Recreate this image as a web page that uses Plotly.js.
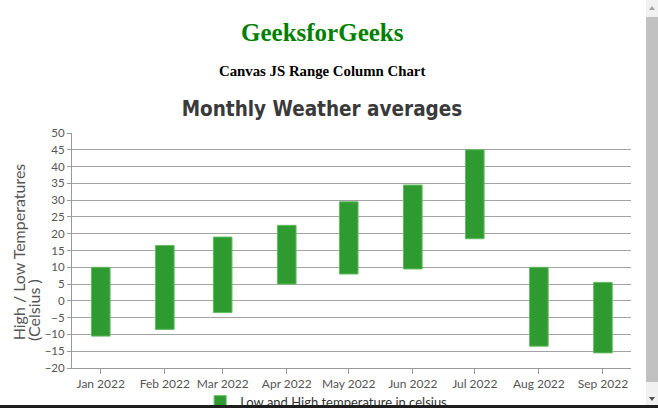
<!DOCTYPE html>
<html>
<head>
<meta charset="utf-8">
<script src="https://cdn.plot.ly/plotly-3.0.1.min.js"></script>
<style>
html,body{margin:0;padding:0;overflow:hidden;background:#fff;}
#wrap{position:relative;width:658px;height:408px;overflow:hidden;background:#fff;}
#chart{position:absolute;left:0;top:0;width:658px;height:430px;}
#sb{position:absolute;left:646px;top:0;width:12px;height:405px;background:#f1f1f1;}
#thumb{position:absolute;left:0;top:17px;width:12px;height:365px;background:#c1c1c1;}
#up{position:absolute;left:3px;top:6px;width:0;height:0;border-left:3px solid transparent;border-right:3px solid transparent;border-bottom:4px solid #a3a3a3;}
#down{position:absolute;left:3px;top:397px;width:0;height:0;border-left:3px solid transparent;border-right:3px solid transparent;border-top:4px solid #505050;}
#bottombar{position:absolute;left:0;top:405px;width:658px;height:3px;background:#1e1e1e;}
</style>
</head>
<body>
<div id="wrap">
  <div id="chart"></div>
  <div id="sb"><div id="thumb"></div><div id="up"></div><div id="down"></div></div>
  <div id="bottombar"></div>
</div>
<script>
// ---- data ----
var months = ['2022-01-01','2022-02-01','2022-03-01','2022-04-01','2022-05-01','2022-06-01','2022-07-01','2022-08-01','2022-09-01'];
var lowTemps  = [-10.5, -8.5, -3.5, 5, 8, 9.5, 18.5, -13.5, -15.5];
var highTemps = [10, 16.5, 19, 22.5, 29.5, 34.5, 45, 10, 5.5];
var seriesName = 'Low and High temperature in celsius';
var chartTitle = 'Monthly Weather averages';
var yTitleLine1 = 'High / Low Temperatures';
var yTitleLine2 = '(Celsius )';
var pageHeading = 'GeeksforGeeks';
var pageSubheading = 'Canvas JS Range Column Chart';

var DAY = 86400000;
var H = 430;
var plotLeft = 72, plotRight = 630.7, plotTop = 133.3, plotBottom = 368.3;
var pw = plotRight - plotLeft, ph = plotBottom - plotTop;
function px2x(p){ return (p - plotLeft) / pw; }
function px2y(p){ return (plotBottom - p) / ph; }

var trace = {
  type: 'bar',
  name: seriesName,
  x: months,
  base: lowTemps,
  y: highTemps.map(function(h, i){ return h - lowTemps[i]; }),
  width: 9 * DAY,
  marker: { color: '#2f9a2f', line: { color: '#62bb62', width: 1 } },
  showlegend: true
};

var layout = {
  width: 658, height: H,
  margin: { l: plotLeft, r: 658 - plotRight, t: plotTop, b: H - plotBottom, pad: 0 },
  paper_bgcolor: '#fff', plot_bgcolor: '#fff',
  font: { family: 'Lato, sans-serif', color: '#555' },
  title: {
    text: chartTitle,
    font: { family: '"DejaVu Sans Condensed", "DejaVu Sans", sans-serif', size: 20.5, weight: 'bold', color: '#3a3a3a' },
    xref: 'container', x: 322 / 658, xanchor: 'center',
    yref: 'container', y: 1 - 109 / H, yanchor: 'middle'
  },
  xaxis: {
    type: 'date',
    range: ['2021-12-18 02:00', '2022-09-14 14:00'],
    tickvals: months,
    tickformat: '%b %Y',
    ticks: 'outside', ticklen: 5, tickcolor: '#999', tickwidth: 1,
    showgrid: false, zeroline: false,
    showline: true, linecolor: '#999', linewidth: 1,
    tickfont: { family: 'Lato, sans-serif', size: 12, color: '#555' },
    fixedrange: true
  },
  yaxis: {
    range: [-20, 50],
    tick0: 0, dtick: 5,
    ticks: 'outside', ticklen: 4, tickcolor: '#999', tickwidth: 1,
    showgrid: true, gridcolor: '#a3a3a3', gridwidth: 1,
    zeroline: false,
    showline: true, linecolor: '#999', linewidth: 1,
    tickfont: { family: 'Lato, sans-serif', size: 11.5, color: '#555' },
    fixedrange: true
  },
  showlegend: true,
  legend: {
    orientation: 'h',
    x: px2x(326), xanchor: 'center',
    y: px2y(402), yanchor: 'middle',
    font: { family: 'Lato, sans-serif', size: 13, color: '#333' },
    bgcolor: 'rgba(0,0,0,0)'
  },
  bargap: 0,
  annotations: [
    { text: pageHeading, xref: 'paper', yref: 'paper', x: px2x(322), y: px2y(33), xanchor: 'center', yanchor: 'middle', showarrow: false,
      font: { family: '"Liberation Serif", "Times New Roman", serif', size: 25, weight: 'bold', color: '#008000' } },
    { text: pageSubheading, xref: 'paper', yref: 'paper', x: px2x(322), y: px2y(71.5), xanchor: 'center', yanchor: 'middle', showarrow: false,
      font: { family: '"Liberation Serif", "Times New Roman", serif', size: 14.8, weight: 'bold', color: '#000' } },
    { text: yTitleLine1, textangle: -90, xref: 'paper', yref: 'paper', x: px2x(18.5), y: px2y(342.7), xanchor: 'center', yanchor: 'bottom', showarrow: false,
      font: { family: 'Lato, sans-serif', size: 16, color: '#555' } },
    { text: yTitleLine2, textangle: -90, xref: 'paper', yref: 'paper', x: px2x(33.5), y: px2y(342.7), xanchor: 'center', yanchor: 'bottom', showarrow: false,
      font: { family: 'Lato, sans-serif', size: 16, color: '#555' } },
    { text: 'CanvasJS Trial', xref: 'paper', yref: 'paper', x: px2x(5), y: px2y(403), xanchor: 'left', yanchor: 'top', showarrow: false,
      font: { family: 'Lato, sans-serif', size: 9, color: '#aaa' } },
    { text: 'CanvasJS.com', xref: 'paper', yref: 'paper', x: px2x(637), y: px2y(403), xanchor: 'right', yanchor: 'top', showarrow: false,
      font: { family: 'Lato, sans-serif', size: 9, color: '#aaa' } }
  ]
};

Plotly.newPlot('chart', [trace], layout, { staticPlot: true, displayModeBar: false });
</script>
</body>
</html>
